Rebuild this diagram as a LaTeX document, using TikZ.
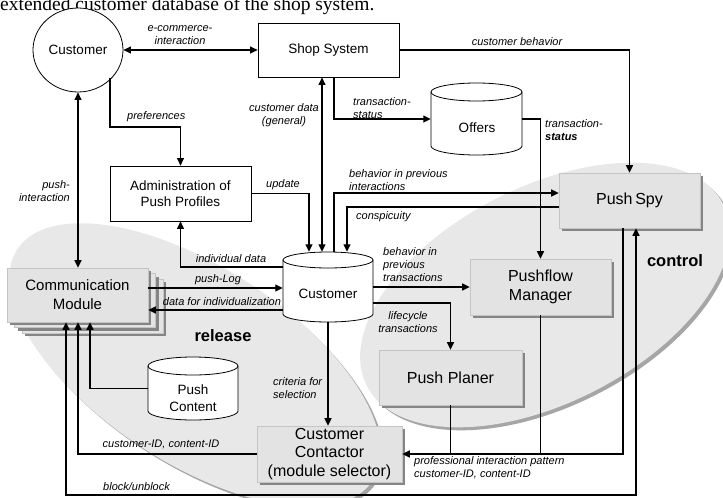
\documentclass[tikz,border=0pt]{standalone}
\usepackage{fontspec}
\setmainfont{Liberation Sans}
\newfontfamily\capfont{Liberation Serif}
\usetikzlibrary{arrows.meta,shapes.geometric,shadows,calc}
\definecolor{regfill}{HTML}{E8E8E8}
\definecolor{regshadow}{HTML}{A6A6A6}
\definecolor{boxfill}{HTML}{E3E3E3}
\definecolor{boxedge}{HTML}{C4C4C4}
\definecolor{boxshadow}{HTML}{858585}
\newcommand{\drawdb}[5]{%
 \draw[line width=0.8pt, fill=white] ({#1-#2},{#3+#5}) -- ({#1-#2},{#4-#5})
   arc[start angle=180, end angle=0, x radius=#2, y radius=#5]
   -- ({#1+#2},{#3+#5})
   arc[start angle=360, end angle=180, x radius=#2, y radius=#5] -- cycle;
 \draw[line width=0.8pt] ({#1-#2},{#3+#5}) arc[start angle=180, end angle=0, x radius=#2, y radius=#5];
}
\begin{document}
\begin{tikzpicture}[x=1pt,y=-1pt,
  lbl/.style={font=\fontsize{11}{13}\selectfont\itshape, inner sep=0pt},
  wbox/.style={draw=black, line width=0.8pt, fill=white, minimum width=141, minimum height=55, align=center, font=\fontsize{13.5}{16}\selectfont, inner sep=0pt},
  gbox/.style={draw=boxedge, line width=0.6pt, fill=boxfill, minimum width=141, minimum height=55, align=center, font=\fontsize{16}{18.5}\selectfont, inner sep=0pt, drop shadow={shadow xshift=3pt, shadow yshift=-3pt, fill=boxshadow, opacity=1}},
  dbanchor/.style={inner sep=0pt, draw=none},
  dbtext/.style={align=center, font=\fontsize{13.5}{17}\selectfont, inner sep=0pt},
  ln/.style={line width=1.2pt},
  arr/.style={ln, -{Triangle[length=7.5pt,width=7pt]}},
  darr/.style={ln, {Triangle[length=7.5pt,width=7pt]}-{Triangle[length=7.5pt,width=7pt]}},
  regionlbl/.style={font=\fontsize{16.5}{18}\selectfont\bfseries, inner sep=0pt}]
\useasboundingbox (0,0) rectangle (723,498);
\clip (0,0) rectangle (723,498);
\fill[white] (0,0) rectangle (723,498);

% caption line (cut off at top, as in the reference)
\node[anchor=base west, inner sep=0pt, font=\capfont\fontsize{19.5}{20}\selectfont] (cap) at (0,10.5) {extended customer database of the shop system.};

% regions
\fill[regshadow, shift={(198,368)}, rotate=-33] (0,0) ellipse[x radius=212, y radius=98];
\fill[regfill, shift={(195,365)}, rotate=-33] (0,0) ellipse[x radius=212, y radius=98];
\fill[regshadow, shift={(548,298)}, rotate=27] (0,0) ellipse[x radius=200, y radius=108];
\fill[regfill, shift={(545,295)}, rotate=27] (0,0) ellipse[x radius=200, y radius=108];
\node[regionlbl] (rel) at (223,336) {release};
\node[regionlbl] (ctl) at (675,261) {control};

% nodes
\node[draw=black, line width=0.8pt, fill=white, ellipse, minimum width=90, minimum height=84, inner sep=0pt, font=\fontsize{13.5}{16}\selectfont] (cust) at (78,50) {Customer};
\node[wbox, minimum height=54] (shop) at (328.5,50) {Shop System};
\node[wbox] (adm) at (180.5,193.5) {Administration of\\Push Profiles};

\node[gbox, minimum height=54] (commL2) at (92.5,306) {};
\node[gbox, minimum height=54] (commL1) at (85,300.5) {};
\node[gbox, minimum height=54, font=\fontsize{15}{19}\selectfont] (comm) at (77.5,295) {Communication\\Module};

\node[gbox] (spy) at (629.5,200.5) {Push\,Spy};
\node[gbox, minimum height=56] (pfm) at (540.5,287) {Pushflow\\Manager};
\node[gbox, minimum width=143] (pp) at (450.5,377.5) {Push Planer};
\node[gbox, minimum width=145, minimum height=56] (cc) at (329.5,454) {Customer\\Contactor\\(module selector)};

% cylinders
\drawdb{476.5}{45.5}{83}{155}{9}
\node[dbanchor, minimum width=91, minimum height=72] (off) at (476.5,119) {};
\node[dbtext] (offt) at (477,128) {Offers};
\drawdb{328}{45}{252}{322}{8}
\node[dbanchor, minimum width=90, minimum height=70] (dbC) at (328,287) {};
\node[dbtext] (dbCt) at (328,294) {Customer};
\drawdb{193}{45}{357}{420}{9}
\node[dbanchor, minimum width=90, minimum height=63] (pc) at (193,388.5) {};
\node[dbtext] (pct) at (193,398) {Push\\Content};

% helper coordinates
\coordinate (cp) at (110,78);
\coordinate (bb) at (0,495);
\coordinate (spyA) at ([xshift=-6.5pt]spy.south);
\coordinate (spyB) at ([xshift=6.5pt]spy.south);
\coordinate (commA) at ([xshift=-11.5pt]comm.south);
\coordinate (commC) at ([xshift=12.5pt]comm.south);
\coordinate (dbU) at ([xshift=-19pt]dbC.north);
\coordinate (dbD) at ([xshift=-6pt]dbC.north);
\coordinate (dbB) at ([xshift=6pt]dbC.north);
\coordinate (dbS) at ([xshift=19pt]dbC.north);
\coordinate (shopT) at ([xshift=5.5pt]shop.south);

% connectors
\draw[darr] (cust.east) -- (shop.west);
\draw[arr] (shop.east) -| (spy.north);
\draw[arr] (shopT) |- (off.west);
\draw[arr] (off.east) -| (pfm.north);
\draw[darr] (dbD) -- (dbD |- shop.south);
\draw[arr] (adm.east) -| (dbU);
\draw[arr] (dbB) |- ([yshift=7.5pt]spy.west);
\draw[arr] ([yshift=-6.5pt]spy.west) -| (dbS);
\draw[arr] ([yshift=20pt]dbC.west) -| (adm.south);
\draw[arr] ([yshift=7pt]comm.east) -- ([yshift=7pt]comm.east -| dbC.west);
\draw[arr] ([yshift=-23pt]dbC.west) -- ([yshift=-23pt]dbC.west -| comm.east);
\draw[darr] (cust.south) -- (cust.south |- comm.north);
\draw[arr] (cp) -- (cp |- 0,127) -| (adm.north);
\draw[arr] (pc.west) -| (commC);
\draw[arr] (cc.west) -| (cust.south |- comm.south);
\draw[darr] (spyB) -- (spyB |- bb) -| (commA);
\draw[arr] (dbC.south) -- (dbC.south |- cc.north);
\draw[arr] (dbC.east) -- (dbC.east -| pfm.west);
\draw[arr] ([yshift=-16pt]dbC.east) -| (pp.north);
\draw[arr] (spyA) -- (spyA |- cc.east) -- (cc.east);
\draw[ln] (pp.south) -- (pp.south |- cc.east);
\draw[ln] (pfm.south) -- (pfm.south |- cc.east);

% labels
\node[lbl, align=center] (lEC) at (180,35) {e-commerce-\\interaction};
\node[lbl] (lCB) at (517,42) {customer behavior};
\node[lbl, align=left, anchor=west] (lTS1) at (353,108) {transaction-\\status};
\node[lbl, align=left, anchor=west] (lTS2) at (545,130) {transaction-\\\textbf{status}};
\node[lbl, align=center] (lCD) at (284,115) {customer data\\(general)};
\node[lbl] (lUp) at (283,185) {update};
\node[lbl, align=left, anchor=west] (lBI) at (349,180) {behavior in previous\\interactions};
\node[lbl, anchor=west] (lCo) at (356,217) {conspicuity};
\node[lbl] (lID) at (231,259) {individual data};
\node[lbl] (lPL) at (218,280) {push-Log};
\node[lbl] (lDI) at (222,302) {data for individualization};
\node[lbl, align=right, anchor=east] (lPI) at (70,191) {push-\\interaction};
\node[lbl, anchor=west] (lPr) at (127,117) {preferences};
\node[lbl] (lCI) at (161,444) {customer-ID, content-ID};
\node[lbl, anchor=west] (lBU) at (103,487) {block/unblock};
\node[lbl, align=left, anchor=west] (lCS) at (273,388) {criteria for\\selection};
\node[lbl, align=left, anchor=west] (lBT) at (383,265) {behavior in\\previous\\transactions};
\node[lbl, align=center] (lLT) at (408,322) {lifecycle\\transactions};
\node[lbl, align=left, anchor=west] (lPIP) at (414,468) {professional interaction pattern\\customer-ID, content-ID};
\end{tikzpicture}
\end{document}
